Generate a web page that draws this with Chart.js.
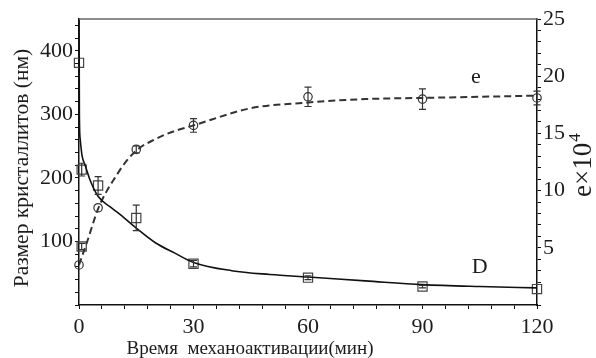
<!DOCTYPE html>
<html>
<head>
<meta charset="utf-8">
<script src="https://cdn.jsdelivr.net/npm/chart.js@4"></script>
<style>
  html, body { margin: 0; padding: 0; background: #fff; }
</style>
</head>
<body>
<canvas id="chart" width="596" height="358"></canvas>
<script>
// Measured points: crystallite size D (nm), left axis
const timeD = [0, 0.7, 0.7, 5, 15, 30, 60, 90, 120];
const sizeD = [381, 213, 92, 188, 137, 65, 43, 29, 25];
const errD = [0, 10, 5, 14, 20, 5, 3, 2, 0];

// Measured points: microstrain e x 10^4, right axis
const timeE = [0, 5, 15, 30, 60, 90, 120];
const strainE = [3.5, 8.5, 13.6, 15.7, 18.2, 18.0, 18.1];
const errE = [0, 0, 0.3, 0.6, 0.85, 0.9, 0.6];

// Fitted curves
const fitTimeD = [0.02, 0.1, 0.3, 0.8, 1.6, 3, 5, 8, 10, 15, 20, 25, 30, 40, 50, 60, 75, 90, 105, 120];
const fitSizeD = [455, 300, 262, 235, 220, 195, 171, 155, 146, 121, 98, 82, 67, 54, 48, 44, 38, 32, 29, 27];
const fitTimeE = [0, 2, 5, 7, 9, 12, 15, 20, 25, 30, 45, 60, 75, 90, 105, 120];
const fitStrainE = [3.5, 5.4, 8.4, 9.8, 10.9, 12.4, 13.5, 14.5, 15.2, 15.7, 17.2, 17.7, 18.0, 18.1, 18.2, 18.3];

const xTitle = "Время  механоактивации(мин)";
const yTitle = "Размер кристаллитов (нм)";

const serif = "'Liberation Serif', 'DejaVu Serif', serif";
const ink = "#1c1c1c";

const toXY = (xs, ys) => xs.map((x, i) => ({ x: x, y: ys[i] }));

// error bars, top frame line, curve labels and axis titles
const extras = {
  id: "extras",
  afterDatasetsDraw(chart) {
    const { ctx, chartArea, scales } = chart;
    const x = scales.x;

    const bars = (xs, ys, errs, yScale) => {
      ctx.save();
      ctx.strokeStyle = "#333";
      ctx.lineWidth = 1.2;
      xs.forEach((t, i) => {
        if (!errs[i]) return;
        const px = x.getPixelForValue(t);
        const top = yScale.getPixelForValue(ys[i] + errs[i]);
        const bot = yScale.getPixelForValue(ys[i] - errs[i]);
        ctx.beginPath();
        ctx.moveTo(px, top); ctx.lineTo(px, bot);
        ctx.moveTo(px - 3.5, top); ctx.lineTo(px + 3.5, top);
        ctx.moveTo(px - 3.5, bot); ctx.lineTo(px + 3.5, bot);
        ctx.stroke();
      });
      ctx.restore();
    };
    bars(timeD, sizeD, errD, scales.y);
    bars(timeE, strainE, errE, scales.y1);

    ctx.save();
    // top frame
    ctx.strokeStyle = "#666";
    ctx.lineWidth = 1.5;
    ctx.beginPath();
    ctx.moveTo(chartArea.left, chartArea.top);
    ctx.lineTo(chartArea.right, chartArea.top);
    ctx.stroke();

    ctx.fillStyle = ink;
    ctx.textAlign = "center";
    ctx.textBaseline = "alphabetic";
    ctx.font = "22px " + serif;
    ctx.fillText("e", x.getPixelForValue(104), scales.y1.getPixelForValue(19.4));
    ctx.fillText("D", x.getPixelForValue(105), scales.y.getPixelForValue(50));

    // x title
    ctx.font = "19px " + serif;
    ctx.fillText(xTitle, 250, 354);

    // left title
    ctx.save();
    ctx.translate(28, 168);
    ctx.rotate(-Math.PI / 2);
    ctx.font = "21.5px " + serif;
    ctx.fillText(yTitle, 0, 0);
    ctx.restore();

    // right title e×10^4
    ctx.save();
    ctx.translate(591, 197);
    ctx.rotate(-Math.PI / 2);
    ctx.textAlign = "left";
    ctx.font = "27px " + serif;
    ctx.fillText("e×10", 0, 0);
    const w = ctx.measureText("e×10").width;
    ctx.font = "17px " + serif;
    ctx.fillText("4", w + 1, -11);
    ctx.restore();

    ctx.restore();
  },
};

const axisGrid = { drawOnChartArea: false, tickLength: 4, tickColor: "#111", tickWidth: 1 };
const axisBorder = { color: "#111", width: 1.5 };

new Chart(document.getElementById("chart").getContext("2d"), {
  type: "line",
  data: {
    datasets: [
      {
        label: "D fit",
        data: toXY(fitTimeD, fitSizeD),
        yAxisID: "y",
        borderColor: "#111",
        borderWidth: 1.6,
        pointRadius: 0,
        cubicInterpolationMode: "monotone",
      },
      {
        label: "e fit",
        data: toXY(fitTimeE, fitStrainE),
        yAxisID: "y1",
        borderColor: "#333",
        borderWidth: 2,
        borderDash: [7, 4],
        pointRadius: 0,
        cubicInterpolationMode: "monotone",
      },
      {
        label: "D",
        data: toXY(timeD, sizeD),
        yAxisID: "y",
        showLine: false,
        pointStyle: "rect",
        pointRadius: 6.5,
        pointBorderColor: "#444",
        pointBackgroundColor: "rgba(0,0,0,0)",
        pointBorderWidth: 1.2,
        clip: false,
      },
      {
        label: "e",
        data: toXY(timeE, strainE),
        yAxisID: "y1",
        showLine: false,
        pointStyle: "circle",
        pointRadius: 4.2,
        pointBorderColor: "#333",
        pointBackgroundColor: "rgba(0,0,0,0)",
        pointBorderWidth: 1.2,
        clip: false,
      },
    ],
  },
  options: {
    responsive: false,
    animation: false,
    layout: { padding: { top: 19, left: 0, right: 0, bottom: 0 } },
    plugins: {
      legend: { display: false },
      tooltip: { enabled: false },
    },
    scales: {
      x: {
        type: "linear",
        position: "bottom",
        min: 0,
        max: 120,
        grid: axisGrid,
        border: axisBorder,
        ticks: {
          stepSize: 6,
          autoSkip: false,
          maxRotation: 0,
          padding: 5,
          color: ink,
          font: { family: serif, size: 22 },
          callback: (v) => (v % 30 === 0 ? v : ""),
        },
        afterFit: (s) => { s.height = 53; },
      },
      y: {
        position: "left",
        min: 0,
        max: 450,
        grid: axisGrid,
        border: axisBorder,
        ticks: {
          stepSize: 20,
          includeBounds: false,
          autoSkip: false,
          padding: 2,
          color: ink,
          font: { family: serif, size: 22 },
          callback: (v) => (v % 100 === 0 && v > 0 ? v : ""),
        },
        afterFit: (s) => { s.width = 79; },
      },
      y1: {
        position: "right",
        min: 0,
        max: 25,
        grid: axisGrid,
        border: axisBorder,
        ticks: {
          stepSize: 1,
          autoSkip: false,
          padding: 2,
          color: ink,
          font: { family: serif, size: 22 },
          callback: (v) => (v % 5 === 0 && v > 0 ? v : ""),
        },
        afterFit: (s) => { s.width = 59; },
      },
    },
  },
  plugins: [extras],
});
</script>
</body>
</html>
